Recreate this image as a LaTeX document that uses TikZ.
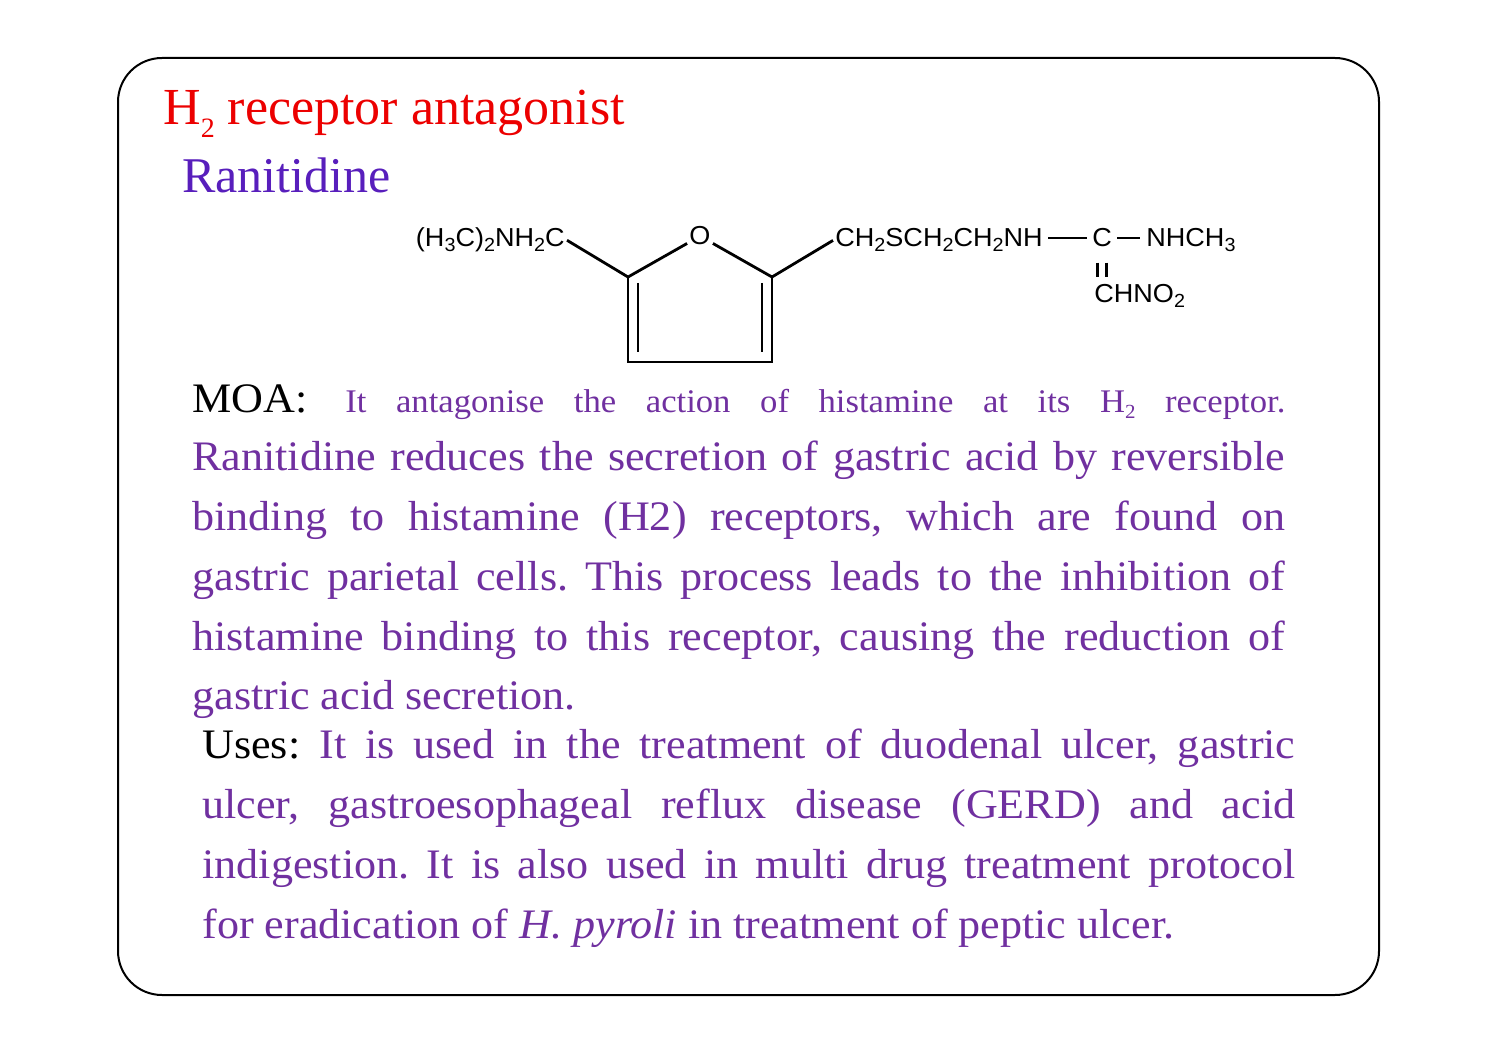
\documentclass[tikz,border=0pt]{standalone}
\usepackage{fontspec}
\setmainfont{Liberation Serif}
\newfontfamily\bodyfont[FakeStretch=1.05]{Liberation Serif}
\newfontfamily\chemfont[FakeStretch=1.04]{Liberation Sans}
\definecolor{titlered}{RGB}{236,0,0}
\definecolor{namepurple}{RGB}{88,30,188}
\definecolor{textpurple}{RGB}{112,48,160}
\newcommand{\chsub}[1]{\raisebox{-2.5pt}{\fontsize{9.5}{9.5}\selectfont #1}}
\newcommand{\jline}[1]{\makebox[546.5pt][s]{#1}}
\frenchspacing
\tikzset{
	chem/.style={inner sep=1pt, font=\chemfont\fontsize{13}{13}\selectfont},
	bond/.style={line width=1.4pt},
	textline/.style={anchor=base west, inner sep=0pt, text=textpurple, font=\bodyfont\fontsize{21}{21}\selectfont},
	heading/.style={anchor=base west, inner sep=0pt, font=\fontsize{25}{25}\selectfont}
}

\begin{document}
\begin{tikzpicture}[x=0.5pt,y=-0.5pt]
			%%%%% START %%%%%
			\useasboundingbox (0,0) rectangle (1497,1058);
			
			\draw[line width=1pt, rounded corners=22pt] (118,58) rectangle (1379,995);
			
			\node[heading, text=titlered, font=\fontsize{26}{26}\selectfont] (title) at (163,125) {H\raisebox{-6.5pt}{\fontsize{14}{14}\selectfont 2} receptor antagonist};
			\node[heading, text=namepurple] (drug) at (182,193) {Ranitidine};
			
			%%%%% STRUCTURE %%%%%
			\coordinate (r1) at (628,277);
			\coordinate (r2) at (772,277);
			\coordinate (r3) at (628,362);
			\coordinate (r4) at (772,362);
			
			\node[chem, anchor=base east] (amine) at (567,247) {(H\chsub{3}C)\chsub{2}NH\chsub{2}C};
			\node[chem] (oxy) at (700,236) {O};
			\node[chem, anchor=base west] (chain) at (833,247) {CH\chsub{2}SCH\chsub{2}CH\chsub{2}NH};
			\node[chem, inner sep=2.5pt, anchor=base] (carb) at (1102,247) {C};
			\node[chem, anchor=base west] (methyl) at (1144,247) {NHCH\chsub{3}};
			\node[chem, anchor=base west] (nitro) at (1092,303) {CHNO\chsub{2}};
			
			\draw[bond] (amine.east) -- (r1) -- (oxy.-150);
			\draw[bond] (oxy.-30) -- (r2) -- (chain.west);
			\draw[bond] (r1) -- (r3) -- (r4) -- (r2);
			\draw[bond] ([shift={(10,6)}]r1) -- ([shift={(10,-10)}]r3);
			\draw[bond] ([shift={(-10,6)}]r2) -- ([shift={(-10,-10)}]r4);
			
			\draw[bond, shorten <=1.5pt] (chain.east |- carb.west) -- (carb.west);
			\draw[bond, shorten >=2pt] (carb.east) -- (methyl.west |- carb.east);
			\draw[bond, shorten <=5pt, shorten >=2.5pt, transform canvas={xshift=-2.25pt}] (carb.south) -- (carb.south |- nitro.north);
			\draw[bond, shorten <=5pt, shorten >=2.5pt, transform canvas={xshift=2.25pt}] (carb.south) -- (carb.south |- nitro.north);
			
			%%%%% MOA %%%%%
			\node[textline] (moa1) at (192,413) {\jline{\textcolor{black}{MOA:} {\fontsize{16.5}{16.5}\selectfont It antagonise the action of histamine at its H\raisebox{-3pt}{\fontsize{10}{10}\selectfont 2} receptor.}}};
			\node[textline] (moa2) at (192,470) {\jline{Ranitidine reduces the secretion of gastric acid by reversible}};
			\node[textline] (moa3) at (192,530) {\jline{binding to histamine (H2) receptors, which are found on}};
			\node[textline] (moa4) at (192,590) {\jline{gastric parietal cells. This process leads to the inhibition of}};
			\node[textline] (moa5) at (192,650) {\jline{histamine binding to this receptor, causing the reduction of}};
			\node[textline] (moa6) at (192,709) {gastric acid secretion.};
			
			%%%%% USES %%%%%
			\node[textline] (use1) at (202,758) {\jline{\textcolor{black}{Uses:} It is used in the treatment of duodenal ulcer, gastric}};
			\node[textline] (use2) at (202,818) {\jline{ulcer, gastroesophageal reflux disease (GERD) and acid}};
			\node[textline] (use3) at (202,878) {\jline{indigestion. It is also used in multi drug treatment protocol}};
			\node[textline] (use4) at (202,938) {for eradication of {\itshape H. pyroli} in treatment of peptic ulcer.};
			
			%%%%% END %%%%%
		\end{tikzpicture}
\end{document}
